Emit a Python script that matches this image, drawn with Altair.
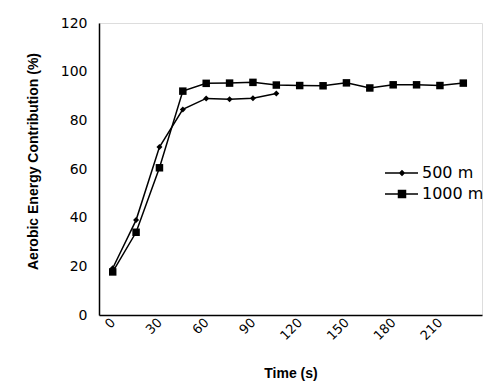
import altair as alt
import pandas as pd

series_names = ["500 m", "1000 m"]

time_500 = [0, 15, 30, 45, 60, 75, 90, 105]
aero_500 = [19.2, 39.0, 69.0, 84.5, 89.0, 88.7, 89.1, 91.0]

time_1000 = [0, 15, 30, 45, 60, 75, 90, 105, 120, 135, 150, 165, 180, 195, 210, 225]
aero_1000 = [17.7, 34.0, 60.5, 92.0, 95.2, 95.3, 95.6, 94.5, 94.3, 94.2, 95.4, 93.3, 94.6, 94.6, 94.3, 95.3]

x_ticks = [0, 30, 60, 90, 120, 150, 180, 210]
y_ticks = [0, 20, 40, 60, 80, 100, 120]

rows = []
for t, v in zip(time_500, aero_500):
    rows.append({"Time": t, "Aerobic": v, "Series": series_names[0]})
for t, v in zip(time_1000, aero_1000):
    rows.append({"Time": t, "Aerobic": v, "Series": series_names[1]})
df = pd.DataFrame(rows)

x_enc = alt.X(
    "Time:Q",
    scale=alt.Scale(domain=[-8.8, 237], nice=False, zero=False),
    axis=alt.Axis(
        values=x_ticks, title="Time (s)", labelAngle=-45, labelAlign="right",
        labelBaseline="middle", labelPadding=5, ticks=False, grid=False,
        domainColor="black", domainWidth=1.5, labelFont="DejaVu Sans",
        labelFontSize=13, labelColor="black", titleFont="Liberation Sans",
        titleFontSize=14, titleFontWeight="bold", titleColor="black", titlePadding=24,
    ),
)
y_enc = alt.Y(
    "Aerobic:Q",
    scale=alt.Scale(domain=[0, 120], nice=False),
    axis=alt.Axis(
        values=y_ticks, title="Aerobic Energy Contribution (%)", ticks=False, grid=False,
        domainColor="black", domainWidth=1.5, labelFont="DejaVu Sans", labelFontSize=14,
        labelColor="black", labelPadding=12, titleFont="Liberation Sans", titleFontSize=14,
        titleFontWeight="bold", titleColor="black", titlePadding=20, titleY=138,
    ),
)

marker_diamond = "M0,-0.8L0.8,0L0,0.8L-0.8,0Z"
marker_square = "M-1,-1L1,-1L1,1L-1,1Z"
legend_500 = "M-3.4,-0.16L3.2,-0.16L3.2,0.16L-3.4,0.16ZM0,-0.65L0.65,0L0,0.65L-0.65,0Z"
legend_1000 = "M-3.4,-0.16L3.2,-0.16L3.2,0.16L-3.4,0.16ZM-0.85,-0.85L0.85,-0.85L0.85,0.85L-0.85,0.85Z"

lines = alt.Chart(df).mark_line(color="black", strokeWidth=1.5).encode(
    x=x_enc, y=y_enc, detail="Series:N", order="Time:Q"
)

points = alt.Chart(df).mark_point(filled=True, color="black", opacity=1, size=56).encode(
    x=x_enc,
    y=y_enc,
    shape=alt.Shape(
        "Series:N",
        scale=alt.Scale(domain=series_names, range=[marker_diamond, marker_square]),
        legend=None,
    ),
)

legend_layer = alt.Chart(df).transform_filter("false").mark_point(
    filled=True, color="black", size=100, opacity=1,
).encode(
    x=x_enc,
    y=y_enc,
    shape=alt.Shape(
        "Series:N",
        scale=alt.Scale(domain=series_names, range=[legend_500, legend_1000]),
        legend=alt.Legend(
            title=None, orient="none", legendX=295, legendY=142,
            symbolSize=100, symbolFillColor="black",
            labelFont="DejaVu Sans", labelFontSize=16,
            labelColor="black", labelOffset=12, rowPadding=5, padding=0,
        ),
    ),
)

chart = alt.layer(lines, points, legend_layer).resolve_scale(shape="independent").properties(
    width=383,
    height=292,
    autosize=alt.AutoSizeParams(type="none"),
    padding={"left": 91, "top": 15, "right": 12, "bottom": 75},
).configure_view(stroke=None).configure(background="white")

chart.save("out.html", embed_options={"renderer": "svg", "actions": False})
